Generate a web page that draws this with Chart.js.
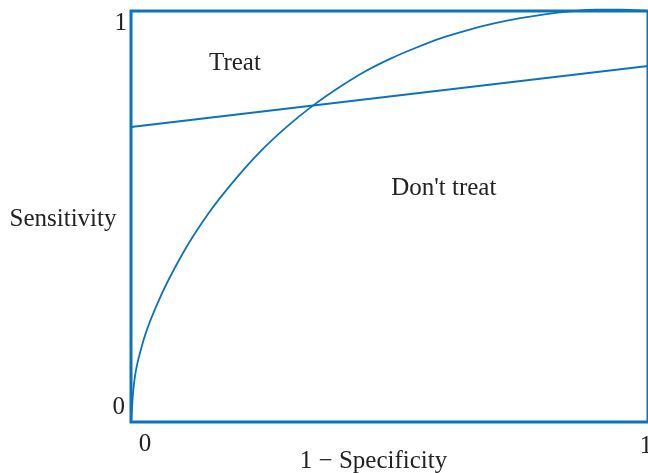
<!DOCTYPE html>
<html>
<head>
<meta charset="utf-8">
<script src="https://cdn.jsdelivr.net/npm/chart.js@4.4.0/dist/chart.umd.min.js"></script>
<style>
html, body { margin: 0; padding: 0; background: #fff; }
#wrap { width: 648px; height: 473px; }
</style>
</head>
<body>
<div id="wrap"><canvas id="roc"></canvas></div>
<script>
"use strict";

// ROC curve: 1 - specificity against sensitivity
var rocFpr = [0, 0.005, 0.02, 0.05, 0.1, 0.15, 0.2, 0.25, 0.3, 0.35, 0.4, 0.45, 0.5,
	0.55, 0.6, 0.65, 0.7, 0.75, 0.8, 0.85, 0.9, 0.95, 1];
var rocTpr = [0, 0.085, 0.18, 0.285, 0.41, 0.508, 0.588, 0.658, 0.717, 0.768, 0.812, 0.851, 0.883,
	0.910, 0.934, 0.953, 0.969, 0.982, 0.992, 0.999, 1.003, 1.003, 1.0];

// treatment threshold line
var lineFpr = [0, 1];
var lineTpr = [0.718, 0.866];

var xTicks = [0, 1];
var yTicks = [0, 1];

// region names and where they sit (data units)
var regionNames = ["Treat", "Don't treat"];
var regionX = [0.201, 0.605];
var regionY = [0.872, 0.569];

var xTitle = "1 \u2212 Specificity";
var yTitle = "Sensitivity";

var blue = "#0b72bd";
var ink = "#222222";
var serif = "'Liberation Serif', 'DejaVu Serif', serif";

function toPoints(xs, ys) {
	var pts = [];
	for (var i = 0; i < xs.length; i++) pts.push({ x: xs[i], y: ys[i] });
	return pts;
}

var textPlugin = {
	id: 'rocText',
	afterDatasetsDraw: function (chart) {
		var ctx = chart.ctx;
		var a = chart.chartArea;
		var sx = chart.scales.x;
		var sy = chart.scales.y;
		ctx.save();

		// box round the plot
		ctx.strokeStyle = blue;
		ctx.lineWidth = 3;
		ctx.strokeRect(a.left, a.top, a.right - a.left, a.bottom - a.top);

		ctx.fillStyle = ink;
		ctx.font = "25px " + serif;
		ctx.textBaseline = "middle";

		// y ticks
		ctx.textAlign = "right";
		ctx.fillText(String(yTicks[1]), a.left - 4, sy.getPixelForValue(yTicks[1]) + 12);
		ctx.fillText(String(yTicks[0]), a.left - 6, sy.getPixelForValue(yTicks[0]) - 15);

		// x ticks
		ctx.textAlign = "center";
		ctx.fillText(String(xTicks[0]), sx.getPixelForValue(xTicks[0]) + 14, a.bottom + 22);
		ctx.fillText(String(xTicks[1]), sx.getPixelForValue(xTicks[1]) - 2, a.bottom + 24);

		// axis titles
		ctx.fillText(xTitle, (a.left + a.right) / 2 - 16, a.bottom + 39);
		ctx.fillText(yTitle, 63, (a.top + a.bottom) / 2 + 3);

		// region names
		for (var i = 0; i < regionNames.length; i++) {
			ctx.fillText(regionNames[i], sx.getPixelForValue(regionX[i]), sy.getPixelForValue(regionY[i]));
		}
		ctx.restore();
	}
};

new Chart(document.getElementById('roc').getContext('2d'), {
	type: 'scatter',
	data: {
		datasets: [{
			label: 'ROC',
			data: toPoints(rocFpr, rocTpr),
			showLine: true,
			borderColor: blue,
			borderWidth: 1.8,
			pointRadius: 0,
			cubicInterpolationMode: 'monotone',
			clip: false
		}, {
			label: 'Threshold',
			data: toPoints(lineFpr, lineTpr),
			showLine: true,
			borderColor: blue,
			borderWidth: 2,
			pointRadius: 0,
			clip: false
		}]
	},
	options: {
		responsive: true,
		maintainAspectRatio: false,
		animation: false,
		layout: { padding: { left: 131, top: 11, right: 0, bottom: 51 } },
		plugins: {
			legend: { display: false },
			tooltip: { enabled: false }
		},
		scales: {
			x: { type: 'linear', min: 0, max: 1, display: false },
			y: { type: 'linear', min: 0, max: 1, display: false }
		}
	},
	plugins: [textPlugin]
});
</script>
</body>
</html>
